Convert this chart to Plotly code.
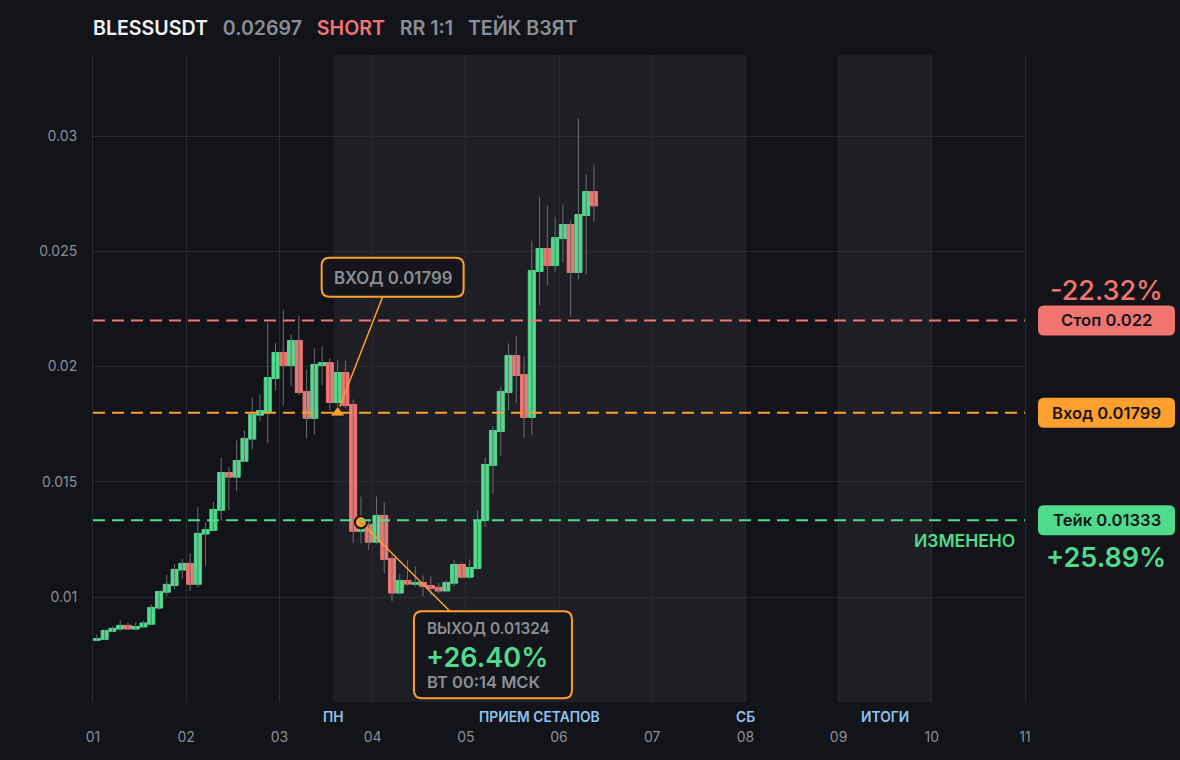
import numpy as np
import pandas as pd
import plotly.graph_objects as go

# 2h candles, BLESSUSDT
opens = [0.00812, 0.00816, 0.00851, 0.00861, 0.00877, 0.00861, 0.00870, 0.00882, 0.00952, 0.01021,
         0.01050, 0.01117, 0.01146, 0.01055, 0.01273, 0.01289, 0.01376, 0.01540, 0.01520, 0.01589,
         0.01685, 0.01789, 0.01805, 0.01948, 0.02061, 0.02004, 0.02113, 0.01892, 0.01775, 0.02004,
         0.02017, 0.01844, 0.01974, 0.01835, 0.01285, 0.01315, 0.01238, 0.01354, 0.01167, 0.01017,
         0.01072, 0.01055, 0.01063, 0.01050, 0.01042, 0.01026, 0.01060, 0.01141, 0.01086, 0.01124,
         0.01332, 0.01571, 0.01718, 0.01887, 0.02048, 0.01965, 0.01779, 0.02412, 0.02512, 0.02438,
         0.02555, 0.02616, 0.02408, 0.02655, 0.02759]
highs = [0.00836, 0.00858, 0.00872, 0.00899, 0.00888, 0.00890, 0.00897, 0.00968, 0.01024, 0.01095,
         0.01144, 0.01164, 0.01189, 0.01389, 0.01323, 0.01412, 0.01605, 0.01563, 0.01679, 0.01722,
         0.01866, 0.01879, 0.02191, 0.02101, 0.02247, 0.02139, 0.02221, 0.01987, 0.02078, 0.02087,
         0.02035, 0.02030, 0.02026, 0.01857, 0.01436, 0.01330, 0.01436, 0.01410, 0.01180, 0.01098,
         0.01159, 0.01133, 0.01094, 0.01090, 0.01060, 0.01072, 0.01159, 0.01150, 0.01163, 0.01376,
         0.01605, 0.01740, 0.01913, 0.02100, 0.02134, 0.02043, 0.02546, 0.02737, 0.02698, 0.02650,
         0.02703, 0.02633, 0.03075, 0.02833, 0.02876]
lows = [0.00810, 0.00814, 0.00849, 0.00852, 0.00858, 0.00855, 0.00868, 0.00880, 0.00943, 0.01004,
        0.01034, 0.01078, 0.01026, 0.01043, 0.01134, 0.01285, 0.01332, 0.01376, 0.01459, 0.01585,
        0.01641, 0.01763, 0.01667, 0.01896, 0.01831, 0.01913, 0.01874, 0.01688, 0.01705, 0.01918,
        0.01810, 0.01830, 0.01820, 0.01234, 0.01232, 0.01204, 0.01230, 0.01104, 0.00982, 0.01011,
        0.01050, 0.01045, 0.01003, 0.01007, 0.01015, 0.01020, 0.01046, 0.01080, 0.01080, 0.01118,
        0.01306, 0.01451, 0.01614, 0.01809, 0.01840, 0.01690, 0.01701, 0.02265, 0.02351, 0.02408,
        0.02451, 0.02217, 0.02377, 0.02399, 0.02629]
closes = [0.00820, 0.00855, 0.00864, 0.00877, 0.00861, 0.00872, 0.00887, 0.00955, 0.01024, 0.01055,
          0.01120, 0.01146, 0.01055, 0.01276, 0.01293, 0.01380, 0.01540, 0.01520, 0.01592, 0.01688,
          0.01792, 0.01809, 0.01952, 0.02061, 0.02004, 0.02113, 0.01887, 0.01775, 0.02009, 0.02017,
          0.01844, 0.01974, 0.01831, 0.01285, 0.01296, 0.01238, 0.01354, 0.01163, 0.01017, 0.01072,
          0.01056, 0.01063, 0.01046, 0.01037, 0.01026, 0.01063, 0.01141, 0.01086, 0.01128, 0.01332,
          0.01575, 0.01722, 0.01892, 0.02048, 0.01961, 0.01779, 0.02416, 0.02512, 0.02438, 0.02559,
          0.02616, 0.02408, 0.02659, 0.02759, 0.02697]

times = pd.date_range("2025-11-01 01:00", periods=len(opens), freq="2h")
day_ticks = pd.date_range("2025-11-01", "2025-11-11", freq="D")
y_ticks = [0.01, 0.015, 0.02, 0.025, 0.03]
y_ticktext = ["0.01", "0.015", "0.02", "0.025", "0.03"]

symbol = "BLESSUSDT"
last_price = "0.02697"
side = "SHORT"
rr = "RR 1:1"
status = "ТЕЙК ВЗЯТ"

stop_price = 0.022
entry_price = 0.01799
take_price = 0.01333
exit_price = 0.01324
entry_idx = 31
exit_idx = 34
stop_pct = "-22.32%"
take_pct = "+25.89%"
result_pct = "+26.40%"
exit_time = "ВТ 00:14 МСК"

zones = [("2025-11-03 14:00", "2025-11-08 00:00"), ("2025-11-09 00:00", "2025-11-10 00:00")]
zone_labels = [("2025-11-03 14:00", "ПН"), ("2025-11-05 19:00", "ПРИЕМ СЕТАПОВ"),
               ("2025-11-08 00:00", "СБ"), ("2025-11-09 12:00", "ИТОГИ")]

BG = "#131419"
BAND = "#1e1f24"
GRID = "#2a2b31"
GRAY = "#8b8e96"
GREEN = "#4fdb8c"
RED = "#f07470"
ORANGE = "#ff9f2e"
DARK = "#15161b"
BLUE = "#8ec5f2"
FONT = "Inter"


def rrect(x0, y0, x1, y1, r):
    return (f"M{x0 + r},{y0} L{x1 - r},{y0} Q{x1},{y0} {x1},{y0 + r} "
            f"L{x1},{y1 - r} Q{x1},{y1} {x1 - r},{y1} L{x0 + r},{y1} "
            f"Q{x0},{y1} {x0},{y1 - r} L{x0},{y0 + r} Q{x0},{y0} {x0 + r},{y0} Z")


wx, wy = [], []
for t, lo, hi in zip(times, lows, highs):
    wx += [t, t, None]
    wy += [lo, hi, None]

wicks = go.Scatter(x=wx, y=wy, mode="lines", line=dict(color="#6c6f77", width=1),
                   hoverinfo="skip")

candles = go.Candlestick(
    x=times,
    open=opens,
    close=closes,
    high=np.maximum(opens, closes),
    low=np.minimum(opens, closes),
    increasing=dict(fillcolor=GREEN, line=dict(color=GREEN, width=1)),
    decreasing=dict(fillcolor=RED, line=dict(color=RED, width=1)),
)

entry_mark = go.Scatter(x=[times[entry_idx]], y=[entry_price], mode="markers",
                        marker=dict(symbol="triangle-up", size=13, color=ORANGE,
                                    line=dict(color=BG, width=1)), hoverinfo="skip")
exit_mark = go.Scatter(x=[times[exit_idx]], y=[exit_price], mode="markers",
                       marker=dict(symbol="circle", size=12, color=ORANGE,
                                   line=dict(color=BG, width=2)), hoverinfo="skip")

fig = go.Figure(data=[wicks, candles, entry_mark, exit_mark])

shapes = []
for z0, z1 in zones:
    shapes.append(dict(type="rect", xref="x", yref="paper", x0=z0, x1=z1, y0=0, y1=1,
                       fillcolor=BAND, line=dict(width=0), layer="below"))

for price, col in [(stop_price, RED), (entry_price, ORANGE), (take_price, GREEN)]:
    shapes.append(dict(type="line", xref="paper", x0=0, x1=1, yref="y", y0=price, y1=price,
                       line=dict(color=col, width=2, dash="12px,7px")))

# connectors
shapes.append(dict(type="line", xref="x", xsizemode="pixel", xanchor=times[entry_idx], x0=2, x1=45,
                   yref="y", ysizemode="pixel", yanchor=entry_price, y0=6, y1=116,
                   line=dict(color=ORANGE, width=1.5)))
shapes.append(dict(type="line", xref="x", xsizemode="pixel", xanchor=times[exit_idx], x0=5, x1=89,
                   yref="y", ysizemode="pixel", yanchor=exit_price, y0=-5, y1=-89,
                   line=dict(color=ORANGE, width=1.5)))

# callout boxes
shapes.append(dict(type="path", xref="x", xsizemode="pixel", xanchor=times[entry_idx],
                   yref="y", ysizemode="pixel", yanchor=entry_price,
                   path=rrect(-16, 116, 126, 155, 8), fillcolor=DARK, line=dict(color=ORANGE, width=2)))
shapes.append(dict(type="path", xref="x", xsizemode="pixel", xanchor=times[exit_idx],
                   yref="y", ysizemode="pixel", yanchor=exit_price,
                   path=rrect(53, -176, 211, -89, 8), fillcolor=DARK, line=dict(color=ORANGE, width=2)))

# right badges
for price, col in [(stop_price, RED), (entry_price, ORANGE), (take_price, GREEN)]:
    shapes.append(dict(type="path", xref="paper", xsizemode="pixel", xanchor=1,
                       yref="y", ysizemode="pixel", yanchor=price,
                       path=rrect(13, -15, 150, 15, 6), fillcolor=col, line=dict(width=0)))

ann = []
ann.append(dict(xref="x", x=times[entry_idx], yref="y", y=entry_price, xshift=55, yshift=135,
                xanchor="center", text=f"ВХОД {entry_price}", showarrow=False,
                font=dict(size=16.8, color=GRAY, family=FONT, weight=600)))
ann.append(dict(xref="x", x=times[exit_idx], yref="y", y=exit_price, xshift=64, yshift=-106,
                xanchor="left", text=f"ВЫХОД {exit_price}", showarrow=False,
                font=dict(size=15.3, color=GRAY, family=FONT, weight=600)))
ann.append(dict(xref="x", x=times[exit_idx], yref="y", y=exit_price, xshift=63, yshift=-135,
                xanchor="left", text=result_pct, showarrow=False,
                font=dict(size=27, color=GREEN, family=FONT, weight=600)))
ann.append(dict(xref="x", x=times[exit_idx], yref="y", y=exit_price, xshift=64, yshift=-160,
                xanchor="left", text=exit_time, showarrow=False,
                font=dict(size=16.5, color=GRAY, family=FONT, weight=600)))

for price, label in [(stop_price, f"Стоп {stop_price}"), (entry_price, f"Вход {entry_price}"),
                     (take_price, f"Тейк {take_price}")]:
    ann.append(dict(xref="paper", x=1, yref="y", y=price, xshift=81.5, xanchor="center",
                    text=label, showarrow=False,
                    font=dict(size=16.6, color=DARK, family=FONT, weight=600)))

ann.append(dict(xref="paper", x=1, yref="y", y=stop_price, xshift=81, yshift=30, xanchor="center",
                text=stop_pct, showarrow=False,
                font=dict(size=27, color=RED, family=FONT, weight=500)))
ann.append(dict(xref="paper", x=1, yref="y", y=take_price, xshift=81, yshift=-37, xanchor="center",
                text=take_pct, showarrow=False,
                font=dict(size=27, color=GREEN, family=FONT, weight=600)))
ann.append(dict(xref="paper", x=1, yref="y", y=take_price, xshift=-8, yshift=-20, xanchor="right",
                text="ИЗМЕНЕНО", showarrow=False,
                font=dict(size=17.5, color=GREEN, family=FONT, weight=600)))

for zx, zl in zone_labels:
    ann.append(dict(xref="x", x=zx, yref="paper", y=0, yshift=-25, xanchor="center", text=zl,
                    showarrow=False, font=dict(size=13.8, color=BLUE, family=FONT, weight=600)))

sp = "\u00a0\u00a0\u00a0"
title = (f"<span style='color:#f2f2f2'>{symbol}</span>{sp}"
         f"<span style='color:{GRAY}'>{last_price}</span>{sp}"
         f"<span style='color:{RED}'>{side}</span>{sp}"
         f"<span style='color:{GRAY}'>{rr}</span>{sp}"
         f"<span style='color:{GRAY}'>{status}</span>")

fig.update_layout(
    width=1180, height=760,
    margin=dict(l=93, r=155, t=55, b=58),
    paper_bgcolor=BG, plot_bgcolor=BG,
    showlegend=False,
    font=dict(family=FONT, color=GRAY),
    boxgap=0.05, boxgroupgap=0.05,
    title=dict(text=title, x=0, xref="paper", xanchor="left", y=1 - 28 / 760, yref="container",
               yanchor="middle", font=dict(size=19.6, family=FONT, weight=600)),
    shapes=shapes,
    annotations=ann,
    xaxis=dict(type="date", range=["2025-11-01", "2025-11-11"], tickvals=day_ticks, tickformat="%d",
               showgrid=True, gridcolor=GRID, gridwidth=1, zeroline=False, showline=False,
               rangeslider=dict(visible=False), tickfont=dict(size=14, color=GRAY),
               ticks="", ticklabelstandoff=25),
    yaxis=dict(range=[0.005445, 0.033514], tickvals=y_ticks, ticktext=y_ticktext,
               showgrid=True, gridcolor=GRID, gridwidth=1, zeroline=False,
               showline=True, mirror=True, linecolor=GRID, linewidth=1,
               tickfont=dict(size=14, color=GRAY), ticks="", ticklabelstandoff=12),
)

fig.write_html("out.html", config={"displayModeBar": False},
               post_script="document.body.style.margin='0';document.body.style.background='#131419';")
